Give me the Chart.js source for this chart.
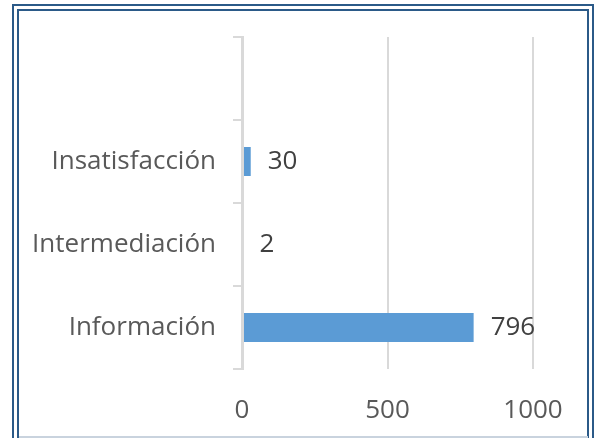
<!DOCTYPE html>
<html>
<head>
<meta charset="utf-8">
<script src="https://cdn.jsdelivr.net/npm/chart.js@4/dist/chart.umd.min.js"></script>
<style>
  html, body { margin: 0; padding: 0; background: #fff; overflow: hidden; }
  #wrap { position: relative; width: 594px; height: 438px; }
  #frame { position: absolute; left: 12px; top: 4px; width: 568px; height: 460px; border: 7px double #2b5a88; box-sizing: content-box; pointer-events: none; }
  #bottomline { position: absolute; left: 19px; top: 436px; width: 569px; height: 2px; background: #c9d3de; }
  canvas { position: absolute; left: 0; top: 0; }
</style>
</head>
<body>
<div id="wrap">
  <canvas id="c" width="594" height="438"></canvas>
  <div id="frame"></div>
  <div id="bottomline"></div>
</div>
<script>
const categories = ['', 'Insatisfacción', 'Intermediación', 'Información'];
const values = [null, 30, 2, 796];
const xTicks = [0, 500, 1000];

const FONT = "'Open Sans'";

const valueLabels = {
  id: 'valueLabels',
  afterDraw(chart) {
    const ctx = chart.ctx;
    const meta = chart.getDatasetMeta(0);
    ctx.save();
    ctx.font = '26px ' + FONT;
    ctx.fillStyle = '#404040';
    ctx.textAlign = 'left';
    ctx.textBaseline = 'middle';
    meta.data.forEach((bar, i) => {
      const v = values[i];
      if (v === null || v === undefined) return;
      ctx.fillText(String(v), bar.x + 17, bar.y);
    });
    ctx.restore();
  }
};

new Chart(document.getElementById('c'), {
  type: 'bar',
  data: {
    labels: categories,
    datasets: [{
      data: values,
      backgroundColor: '#5b9bd5',
      borderWidth: 0,
      barPercentage: 0.35,
      categoryPercentage: 1
    }]
  },
  options: {
    indexAxis: 'y',
    responsive: false,
    animation: false,
    devicePixelRatio: 1,
    layout: { padding: { top: 37, right: 61, left: 0, bottom: 0 } },
    plugins: { legend: { display: false }, tooltip: { enabled: false } },
    scales: {
      x: {
        type: 'linear',
        min: 0,
        max: 1000,
        afterBuildTicks(axis) { axis.ticks = xTicks.map(v => ({ value: v })); },
        afterFit(axis) { axis.height = 69; },
        border: { display: false },
        grid: {
          drawTicks: false,
          color: (c) => (c.tick && c.tick.value === 0) ? 'rgba(0,0,0,0)' : '#d9d9d9',
          lineWidth: 2
        },
        ticks: {
          color: '#595959',
          font: { family: FONT, size: 26 },
          padding: 26,
          maxRotation: 0,
          callback: (v) => String(v)
        }
      },
      y: {
        type: 'category',
        offset: true,
        afterFit(axis) { axis.width = 242; },
        border: { display: true, color: '#d9d9d9', width: 3, z: 1 },
        grid: {
          offset: true,
          drawOnChartArea: false,
          drawTicks: true,
          tickLength: 9,
          color: '#d9d9d9',
          lineWidth: 2
        },
        ticks: {
          color: '#595959',
          font: { family: FONT, size: 26 },
          padding: 17
        }
      }
    }
  },
  plugins: [valueLabels]
});
</script>
</body>
</html>
